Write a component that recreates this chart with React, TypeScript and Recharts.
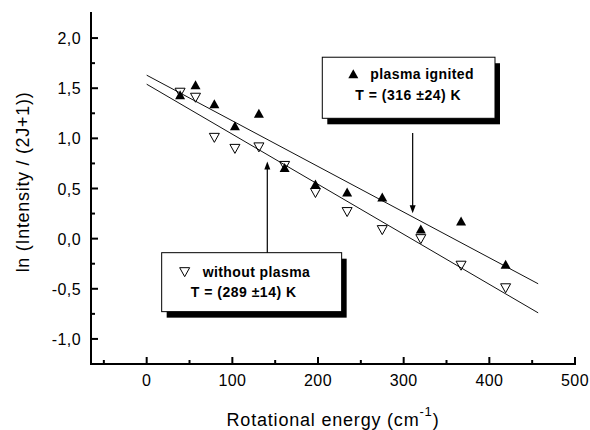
import React from 'react'
import {
  ComposedChart,
  XAxis,
  YAxis,
  Line,
  Scatter,
  ReferenceArea,
  ReferenceLine,
  Label,
} from 'recharts'

// rotational energy (cm-1) of the measured lines
const energy = [39, 57, 79, 103, 131, 161, 197, 234, 275, 320, 367, 419]
// ln(I / (2J+1))
const ignited = [1.43, 1.53, 1.34, 1.12, 1.245, 0.705, 0.54, 0.46, 0.41, 0.09, 0.17, -0.26]
const withoutPlasma = [1.46, 1.41, 1.01, 0.9, 0.915, 0.73, 0.46, 0.27, 0.09, 0.0, -0.265, -0.49]

// linear fits (end points)
const fitEnergy = [0, 457]
const ignitedFit = [1.63, -0.45]
const withoutFit = [1.54, -0.74]

const xDomain = [-65, 500]
const yDomain = [-1.25, 2.25]
const xTicks = [-50, 0, 50, 100, 150, 200, 250, 300, 350, 400, 450, 500]
const yTicks = [-1, -0.75, -0.5, -0.25, 0, 0.25, 0.5, 0.75, 1, 1.25, 1.5, 1.75, 2]

// annotation boxes and arrows, in data units
const ignitedBox = { x1: 205, x2: 406.6, y1: 1.2, y2: 1.809 }
const withoutBox = { x1: 17.5, x2: 227.6, y1: -0.728, y2: -0.14 }
const ignitedArrow = [{ x: 310.5, y: 1.054 }, { x: 310.5, y: 0.253 }]
const withoutArrow = [{ x: 140.8, y: -0.14 }, { x: 140.8, y: 0.768 }]

const ignitedPts = energy.map((x, i) => ({ x, y: ignited[i] }))
const withoutPts = energy.map((x, i) => ({ x, y: withoutPlasma[i] }))
const ignitedLine = fitEnergy.map((x, i) => ({ x, y: ignitedFit[i] }))
const withoutLine = fitEnergy.map((x, i) => ({ x, y: withoutFit[i] }))

const FONT = '"Liberation Sans", Arial, Helvetica, sans-serif'
const AXIS = { stroke: '#000', strokeWidth: 2, strokeLinecap: 'square' as const }

const isMajorX = (v: number) => v % 100 === 0
const isMajorY = (v: number) => Math.abs(v * 2 - Math.round(v * 2)) < 1e-6
const fmtY = (v: number) => v.toFixed(1).replace('.', ',')

const BottomTick = ({ x, y, payload }: any) => {
  const major = isMajorX(payload.value)
  return (
    <g>
      <line x1={x} x2={x} y1={y} y2={y - (major ? 7 : 4)} stroke="#000" strokeWidth={2} />
      {major && (
        <text x={x} y={y + 22} textAnchor="middle" fontSize={16} fontFamily={FONT} fill="#000" letterSpacing={0.4}>
          {payload.value}
        </text>
      )}
    </g>
  )
}

const TopTick = ({ x, y, payload }: any) => {
  const major = isMajorX(payload.value)
  return <line x1={x} x2={x} y1={y} y2={y + (major ? 7 : 4)} stroke="#000" strokeWidth={2} />
}

const LeftTick = ({ x, y, payload }: any) => {
  const major = isMajorY(payload.value)
  return (
    <g>
      <line x1={x} x2={x + (major ? 7 : 4)} y1={y} y2={y} stroke="#000" strokeWidth={2} />
      {major && (
        <text x={x - 10} y={y + 6} textAnchor="end" fontSize={16} fontFamily={FONT} fill="#000" letterSpacing={0.4}>
          {fmtY(payload.value)}
        </text>
      )}
    </g>
  )
}

const RightTick = ({ x, y, payload }: any) => {
  const major = isMajorY(payload.value)
  return <line x1={x} x2={x - (major ? 7 : 4)} y1={y} y2={y} stroke="#000" strokeWidth={2} />
}

const UpTriangle = ({ cx, cy }: any) => (
  <polygon points={`${cx},${cy - 5} ${cx - 5},${cy + 4} ${cx + 5},${cy + 4}`} fill="#000" />
)

const DownTriangle = ({ cx, cy }: any) => (
  <polygon
    points={`${cx - 5},${cy - 4} ${cx + 5},${cy - 4} ${cx},${cy + 5}`}
    fill="none"
    stroke="#000"
    strokeWidth={1}
  />
)

const XTitle = ({ viewBox }: any) => {
  const cx = viewBox.x + viewBox.width / 2
  const base = viewBox.y + 62
  return (
    <text x={cx} y={base} textAnchor="middle" fontSize={18} fontFamily={FONT} fill="#000" letterSpacing={0.8}>
      Rotational energy (cm
      <tspan dy={-10} fontSize={13}>-1</tspan>
      <tspan dy={10}>)</tspan>
    </text>
  )
}

const YTitle = () => (
  <text
    x={29}
    y={182}
    transform="rotate(-90, 29, 182)"
    textAnchor="middle"
    fontSize={18}
    fontFamily={FONT}
    fill="#000"
    letterSpacing={0.7}
  >
    ln (Intensity / (2J+1))
  </text>
)

const Callout = (props: any) => {
  const { x, y, width, height, marker, title, temp, markX, titleX, line1, line2, tempX } = props
  return (
    <g>
      <rect x={x + 5} y={y + 6} width={width} height={height} fill="#000" />
      <rect x={x} y={y} width={width} height={height} fill="#fff" stroke="#000" strokeWidth={1} />
      {marker === 'up' ? (
        <UpTriangle cx={x + markX} cy={y + line1 - 5} />
      ) : (
        <DownTriangle cx={x + markX} cy={y + line1 - 5} />
      )}
      <text x={x + titleX} y={y + line1} fontSize={14} fontWeight="bold" fontFamily={FONT} fill="#000" letterSpacing={0.4}>
        {title}
      </text>
      <text
        x={x + tempX}
        y={y + line2}
        textAnchor="middle"
        fontSize={14}
        fontWeight="bold"
        fontFamily={FONT}
        fill="#000"
        letterSpacing={0.5}
      >
        {temp}
      </text>
    </g>
  )
}

const Arrow = ({ x1, y1, x2, y2 }: any) => {
  const dir = Math.sign(y2 - y1)
  return (
    <g>
      <line x1={x1} y1={y1} x2={x2} y2={y2 - dir * 6} stroke="#000" strokeWidth={1.2} />
      <polygon points={`${x2},${y2} ${x2 - 3},${y2 - dir * 8} ${x2 + 3},${y2 - dir * 8}`} fill="#000" />
    </g>
  )
}

export default function App() {
  return (
    <div style={{ position: 'absolute', left: 0, top: 0, width: 590, height: 430, background: '#fff' }}>
      <ComposedChart width={590} height={430} margin={{ top: 13, right: 15, bottom: 0, left: 0 }}>
        <XAxis
          dataKey="x"
          type="number"
          domain={xDomain}
          ticks={xTicks}
          interval={0}
          allowDataOverflow
          height={66}
          tickSize={0}
          tickMargin={0}
          tickLine={false}
          axisLine={AXIS}
          tick={(p: any) => <BottomTick {...p} />}
        >
          <Label content={(p: any) => <XTitle {...p} />} />
        </XAxis>
        <XAxis
          xAxisId="top"
          orientation="top"
          type="number"
          domain={xDomain}
          ticks={xTicks}
          interval={0}
          allowDataOverflow
          height={0}
          tickSize={0}
          tickMargin={0}
          tickLine={false}
          axisLine={AXIS}
          tick={(p: any) => <TopTick {...p} />}
        />
        <YAxis
          dataKey="y"
          type="number"
          domain={yDomain}
          ticks={yTicks}
          interval={0}
          allowDataOverflow
          width={91}
          tickSize={0}
          tickMargin={0}
          tickLine={false}
          axisLine={AXIS}
          tick={(p: any) => <LeftTick {...p} />}
        >
          <Label content={() => <YTitle />} />
        </YAxis>
        <YAxis
          yAxisId="right"
          orientation="right"
          type="number"
          domain={yDomain}
          ticks={yTicks}
          interval={0}
          allowDataOverflow
          width={0}
          tickSize={0}
          tickMargin={0}
          tickLine={false}
          axisLine={AXIS}
          tick={(p: any) => <RightTick {...p} />}
        />

        <Line data={ignitedLine} dataKey="y" stroke="#111" strokeWidth={1} dot={false} isAnimationActive={false} />
        <Line data={withoutLine} dataKey="y" stroke="#111" strokeWidth={1} dot={false} isAnimationActive={false} />
        <Scatter data={ignitedPts} dataKey="y" shape={(p: any) => <UpTriangle {...p} />} isAnimationActive={false} />
        <Scatter data={withoutPts} dataKey="y" shape={(p: any) => <DownTriangle {...p} />} isAnimationActive={false} />

        <ReferenceLine segment={ignitedArrow} shape={(p: any) => <Arrow {...p} />} />
        <ReferenceLine segment={withoutArrow} shape={(p: any) => <Arrow {...p} />} />

        <ReferenceArea
          {...ignitedBox}
          shape={(p: any) => (
            <Callout
              {...p}
              marker="up"
              title="plasma ignited"
              temp="T = (316 ±24) K"
              markX={31}
              titleX={48}
              line1={22}
              line2={43}
              tempX={86}
            />
          )}
        />
        <ReferenceArea
          {...withoutBox}
          shape={(p: any) => (
            <Callout
              {...p}
              marker="down"
              title="without plasma"
              temp="T = (289 ±14) K"
              markX={23}
              titleX={41}
              line1={24}
              line2={44}
              tempX={82}
            />
          )}
        />
      </ComposedChart>
    </div>
  )
}
